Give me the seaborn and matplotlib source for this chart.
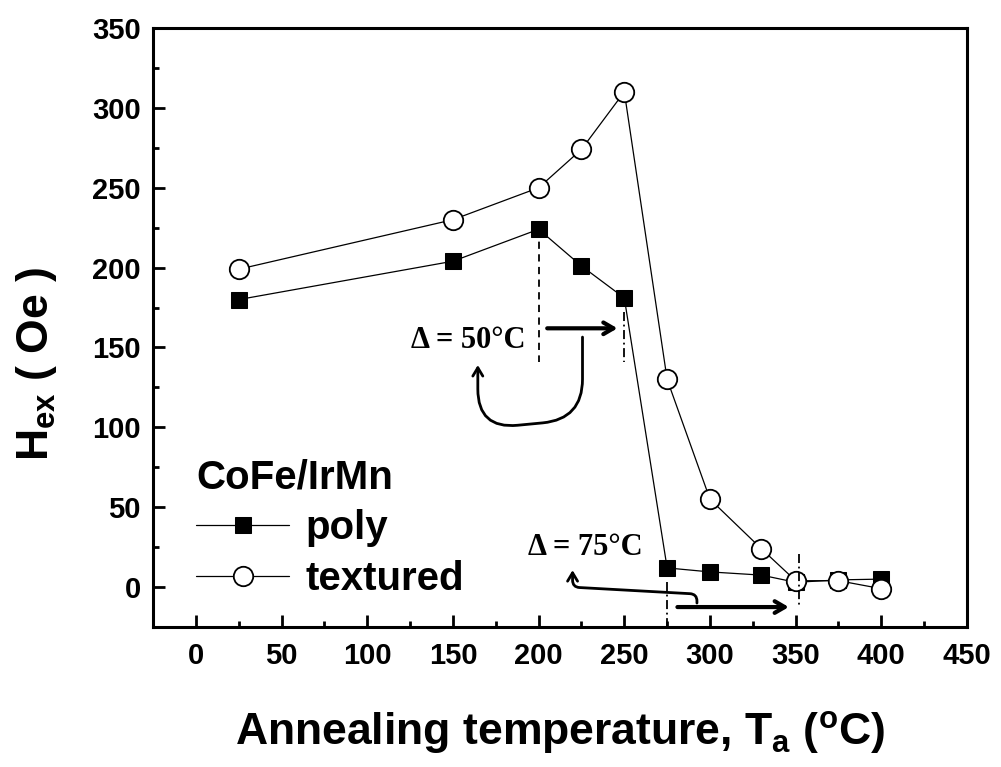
import matplotlib
matplotlib.use("Agg")
import matplotlib.pyplot as plt
import seaborn as sns
import pandas as pd

# Annealing temperatures (deg C) and exchange bias fields (Oe)
temps = [25, 150, 200, 225, 250, 275, 300, 330, 350, 375, 400]
hex_poly = [180, 204, 224, 201, 181, 12, 9.5, 7.5, 3, 4.5, 5]
hex_textured = [199, 230, 250, 274, 310, 130, 55, 24, 4, 4, -1]

x_ticks = [0, 50, 100, 150, 200, 250, 300, 350, 400, 450]
y_ticks = [0, 50, 100, 150, 200, 250, 300, 350]

sns.set_theme(style="ticks")
plt.rcParams["font.family"] = ["Liberation Sans", "DejaVu Sans"]
plt.rcParams["font.weight"] = "bold"
plt.rcParams["axes.labelweight"] = "bold"
for key in ["text.color", "axes.labelcolor", "xtick.color", "ytick.color",
            "axes.edgecolor"]:
    plt.rcParams[key] = "black"

df = pd.DataFrame({"T": temps, "poly": hex_poly, "textured": hex_textured})

fig = plt.figure(figsize=(10.01, 7.67), dpi=100)
ax = fig.add_axes([0.153, 0.1825, 0.813, 0.781])

sns.lineplot(data=df, x="T", y="poly", ax=ax, color="black", lw=0.9,
             marker="s", markersize=12, markerfacecolor="black",
             markeredgecolor="black", label="poly", sort=False)
sns.lineplot(data=df, x="T", y="textured", ax=ax, color="black", lw=0.9,
             marker="o", markersize=14, markerfacecolor="white",
             markeredgecolor="black", markeredgewidth=1.3,
             label="textured", sort=False)

ax.set_xlim(-25, 450)
ax.set_ylim(-25, 350)
ax.set_xticks(x_ticks)
ax.set_yticks(y_ticks)
ax.set_xticks([v + 25 for v in x_ticks[:-1]], minor=True)
ax.set_yticks([v + 25 for v in y_ticks[:-1]], minor=True)
ax.set_xticklabels([str(v) for v in x_ticks], fontsize=21, fontweight="bold")
ax.set_yticklabels([str(v) for v in y_ticks], fontsize=21, fontweight="bold")
ax.tick_params(axis="both", which="major", direction="in", length=8.5,
               width=2, pad=9, top=False, right=False, colors="black")
ax.tick_params(axis="x", which="major", pad=11)
ax.tick_params(axis="both", which="minor", direction="in", length=4.3,
               width=2, top=False, right=False, colors="black")
for s in ax.spines.values():
    s.set_linewidth(2.2)
    s.set_color("black")
    s.set_visible(True)

ax.set_xlabel(r"Annealing temperature, T$_\mathregular{a}$ ($^\mathregular{o}$C)",
              fontsize=32, fontweight="bold", labelpad=28)
ax.set_ylabel(r"H$_\mathregular{ex}$ ( Oe )", fontsize=32, fontweight="bold",
              labelpad=24)
ax.yaxis.label.set_y(0.44)

# guide lines marking the shift of the peak and of the blocking temperature
ax.plot([200, 200], [224, 141], color="black", lw=1.3, ls=(0, (4, 3)))
ax.plot([250, 250], [172, 141], color="black", lw=1.3, ls=(0, (5, 2, 1, 2)))
ax.plot([275, 275], [3, -25], color="black", lw=1.3, ls=(0, (5, 2, 1, 2)))
ax.plot([352, 352], [21, -11], color="black", lw=1.3, ls=(0, (5, 2, 1, 2)))

arrow_kw = dict(arrowstyle="->,head_length=0.6,head_width=0.35", lw=3, color="black",
                shrinkA=0, shrinkB=0)
ax.annotate("", xy=(246, 162), xytext=(205, 162), arrowprops=arrow_kw)
ax.annotate("", xy=(346, -12.5), xytext=(281, -12.5), arrowprops=arrow_kw)

curve_kw = dict(arrowstyle="->,head_length=0.5,head_width=0.3", lw=2, color="black",
                shrinkA=0, shrinkB=0)
ax.annotate("", xy=(164.5, 139), xytext=(225.6, 156.5),
            arrowprops=dict(curve_kw,
                            connectionstyle="arc,angleA=-90,armA=82,angleB=-90,armB=64,rad=40"))
ax.annotate("", xy=(219.8, 10.6), xytext=(292.4, -10),
            arrowprops=dict(curve_kw,
                            connectionstyle="arc,angleA=90,armA=9,angleB=-90,armB=17,rad=7"))

ax.text(159, 154.5, "Δ = 50°C", fontsize=22, fontweight="bold", color="black",
        family=["Liberation Serif", "DejaVu Serif"], ha="center", va="center")
ax.text(227, 24.5, "Δ = 75°C", fontsize=22, fontweight="bold", color="black",
        family=["Liberation Serif", "DejaVu Serif"], ha="center", va="center")

leg = ax.legend(title="CoFe/IrMn", loc="upper left", bbox_to_anchor=(0.053, 0.282),
                frameon=False, fontsize=29, title_fontsize=29, handlelength=2.3,
                handletextpad=0.4, labelspacing=0.32, borderpad=0, borderaxespad=0,
                alignment="left", markerscale=1.0, labelcolor="black")
leg.get_title().set_fontweight("bold")
leg.get_title().set_color("black")
for t in leg.get_texts():
    t.set_fontweight("bold")

fig.savefig("out.png", dpi=100, facecolor="white")
